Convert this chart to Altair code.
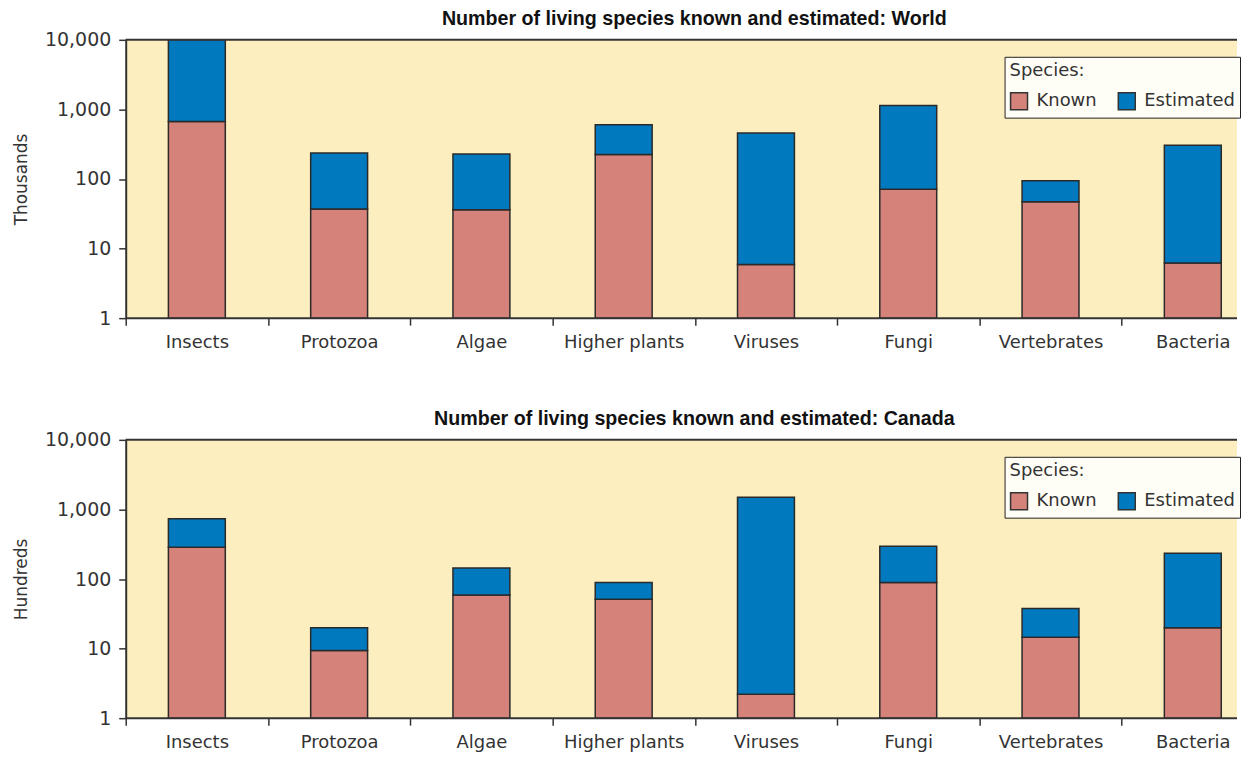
import altair as alt
import pandas as pd

categories = ["Insects", "Protozoa", "Algae", "Higher plants", "Viruses",
              "Fungi", "Vertebrates", "Bacteria"]
series = ["Known", "Estimated"]
# World, thousands of species (bar tops on the log axis)
world_known = [670, 37, 36, 224, 5.9, 71, 47, 6.2]
world_estimated = [10000, 236, 229, 600, 459, 1140, 94, 305]
# Canada, hundreds of species
canada_known = [286, 9.4, 59, 51, 2.2, 89, 14.5, 20]
canada_estimated = [733, 19.9, 144, 89, 1500, 295, 37.6, 234]
y_ticks = [1, 10, 100, 1000, 10000]

colors = ["#d4827a", "#0079be"]
FONT = "DejaVu Sans"
TFONT = "Liberation Sans"
W = 1114
H = 279
STEP = 1141 / len(categories)          # the last band runs past the cropped edge
P_INNER = 0.6
OUTER_TOTAL = W - STEP * (len(categories) - P_INNER)
P_OUTER = OUTER_TOTAL / (2 * STEP)
ALIGN = (STEP * 0.3) / OUTER_TOTAL
EDGE = STEP * P_INNER / 2


def table(known, est):
    rows = []
    for c, k, e in zip(categories, known, est):
        rows.append({"cat": c, "series": "Known", "lo": 1, "hi": k})
        rows.append({"cat": c, "series": "Estimated", "lo": k, "hi": e})
    return pd.DataFrame(rows)


def panel(df, title, ytitle):
    x = alt.X("cat:N", sort=categories, title=None,
              scale=alt.Scale(domain=categories, paddingInner=P_INNER,
                              paddingOuter=P_OUTER, align=ALIGN),
              axis=alt.Axis(domain=False, labelAngle=0, labelFontSize=18,
                            labelColor="#333", labelFont=FONT, labelPadding=8,
                            tickSize=7, tickColor="#333", tickWidth=1.5,
                            bandPosition=0, tickOffset=-EDGE, labelOffset=EDGE,
                            labelOverlap=False))
    y = alt.Y("hi:Q", title=ytitle,
              scale=alt.Scale(type="log", domain=[1, 10000]),
              axis=alt.Axis(values=y_ticks, format=",", labelFontSize=19,
                            labelFont=FONT, labelColor="#333", labelPadding=8,
                            tickSize=7, tickColor="#333", tickWidth=1.5,
                            domainColor="#333", domainWidth=2,
                            minExtent=85, maxExtent=85, grid=False,
                            titleFont=FONT, titleFontSize=17,
                            titleFontWeight="normal", titleColor="#333",
                            titlePadding=10))
    color = alt.Color("series:N",
                      scale=alt.Scale(domain=series, range=colors),
                      legend=alt.Legend(orient="none", legendX=881, legendY=17,
                                        direction="horizontal", title="Species:",
                                        titleFont=FONT, titleFontSize=18,
                                        titleFontWeight="normal", titleColor="#333",
                                        titleAnchor="start", titlePadding=12,
                                        labelFont=FONT, labelFontSize=18,
                                        labelColor="#333", labelOffset=8,
                                        symbolType="square", symbolSize=289,
                                        symbolStrokeColor="#333",
                                        symbolStrokeWidth=1.5, symbolOpacity=1,
                                        columnPadding=18, padding=5,
                                        fillColor="#fffef6", strokeColor="#222"))
    bars = alt.Chart(df).mark_bar(stroke="#2a2a2a", strokeWidth=1.5).encode(
        x=x, y=y, y2="lo:Q", color=color)
    border = pd.DataFrame({"edge": ["top", "bottom"]})
    top = alt.Chart(border.iloc[:1]).mark_rule(color="#333", strokeWidth=2).encode(
        x=alt.value(0), x2=alt.value(W), y=alt.value(0))
    bottom = alt.Chart(border.iloc[1:]).mark_rule(color="#333", strokeWidth=2).encode(
        x=alt.value(0), x2=alt.value(W), y=alt.value(H))
    return alt.layer(bars, top, bottom).properties(
        width=W, height=H,
        title=alt.TitleParams(title, font=TFONT, fontSize=19.7, fontWeight="bold",
                              color="#111", anchor="middle", frame="group",
                              offset=2, dx=13))


c1 = panel(table(world_known, world_estimated),
           "Number of living species known and estimated: World", "Thousands")
c2 = panel(table(canada_known, canada_estimated),
           "Number of living species known and estimated: Canada", "Hundreds")

chart = alt.vconcat(c1, c2, spacing=58).resolve_legend(color="independent").properties(
    padding={"left": 5, "top": 0, "right": 0, "bottom": 0}
).configure_view(fill="#fdeebf", stroke=None)

chart.save("out.html", embed_options={"renderer": "svg", "actions": False})
